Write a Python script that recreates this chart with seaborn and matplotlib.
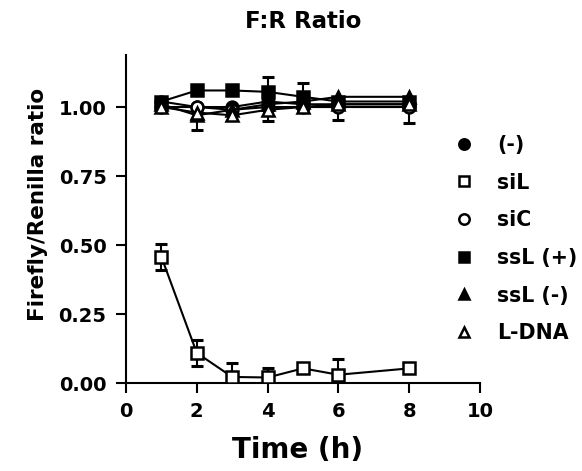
import numpy as np
import pandas as pd
import matplotlib
matplotlib.use("Agg")
import matplotlib.pyplot as plt
from matplotlib.lines import Line2D
import seaborn as sns

# data
time = [1, 2, 3, 4, 5, 6, 8]
neg = [1.02, 1.00, 1.00, 1.02, 1.01, 1.01, 1.01]
siL = [0.457, 0.109, 0.022, 0.02, 0.053, 0.03, 0.053]
siC = [1.00, 1.00, 0.99, 1.00, 1.00, 1.00, 1.00]
ssL_pos = [1.02, 1.06, 1.06, 1.055, 1.037, 1.02, 1.02]
ssL_neg = [1.01, 0.97, 0.99, 1.01, 1.02, 1.037, 1.037]
l_dna = [1.00, 0.98, 0.97, 0.99, 1.00, 1.01, 1.01]

# error bars (lower, upper)
siL_err = [0.048, 0.047, 0.05, 0.034, 0.0, 0.057, 0.0]
ssL_pos_up = [0.0, 0.0, 0.0, 0.055, 0.05, 0.0, 0.0]
l_dna_lo = [0.0, 0.063, 0.0, 0.0, 0.0, 0.0, 0.0]
siC_lo = [0.0, 0.0, 0.0, 0.05, 0.0, 0.046, 0.058]

zeros = [0.0] * len(time)

sns.set_style("ticks")
plt.rcParams['font.family'] = ['DejaVu Sans']
plt.rcParams['font.weight'] = 'bold'
for key in ['text.color', 'axes.labelcolor', 'xtick.color', 'ytick.color', 'axes.edgecolor']:
    plt.rcParams[key] = 'black'

fig = plt.figure(figsize=(5.82, 4.71), dpi=100)
ax = fig.add_axes([0.2165, 0.1868, 0.6082, 0.6973])

series = [
    ("(-)", neg, "o", "black", None),
    ("siL", siL, "s", "white", (siL_err, siL_err)),
    ("siC", siC, "o", "white", (siC_lo, zeros)),
    ("ssL (+)", ssL_pos, "s", "black", (zeros, ssL_pos_up)),
    ("ssL (-)", ssL_neg, "^", "black", None),
    ("L-DNA", l_dna, "^", "white", (l_dna_lo, zeros)),
]

handles = []
for name, vals, mk, fc, err in series:
    if err is not None:
        ax.errorbar(time, vals, yerr=[err[0], err[1]], fmt="none", ecolor="black",
                    elinewidth=1.5, capsize=4.5, capthick=2.2, zorder=2)
    sns.lineplot(x=time, y=vals, ax=ax, color="black", lw=1.5, legend=False,
                 marker=mk, markersize=8.5, markerfacecolor=fc,
                 markeredgecolor="black", markeredgewidth=1.8, zorder=3)
    handles.append(Line2D([], [], ls="none", marker=mk, markersize=7.5,
                          markerfacecolor=fc, markeredgecolor="black",
                          markeredgewidth=1.8, label=name))

ax.set_xlim(0, 10)
ax.set_ylim(0, 1.19)
ax.set_xticks([0, 2, 4, 6, 8, 10])
ax.set_yticks([0, 0.25, 0.5, 0.75, 1.0])
ax.set_yticklabels(["0.00", "0.25", "0.50", "0.75", "1.00"])
ax.tick_params(labelsize=14, width=1.5, length=7)
ax.tick_params(axis="x", pad=7)
ax.tick_params(axis="y", pad=7)
for lab in ax.get_xticklabels() + ax.get_yticklabels():
    lab.set_fontweight("bold")
sns.despine(ax=ax)
for s in ["left", "bottom"]:
    ax.spines[s].set_linewidth(1.5)
ax.set_xlabel("")
ax.set_ylabel("")

fig.text(303 / 582, 1 - 22 / 471, "F:R Ratio", fontsize=16.5, fontweight="bold",
         ha="center", va="center")
fig.text(298 / 582, 1 - 450 / 471, "Time (h)", fontsize=20, fontweight="bold",
         ha="center", va="center")
fig.text(38 / 582, 1 - 204 / 471, "Firefly/Renilla ratio", fontsize=15.5,
         fontweight="bold", rotation=90, ha="center", va="center")

fig.legend(handles=handles, loc="upper left", bbox_to_anchor=(0.7655, 0.731),
           frameon=False, prop={"size": 14.8, "weight": "bold"},
           borderaxespad=0, handletextpad=1.1, labelspacing=0.86, handlelength=1.0)

fig.savefig("out.png", dpi=100)
